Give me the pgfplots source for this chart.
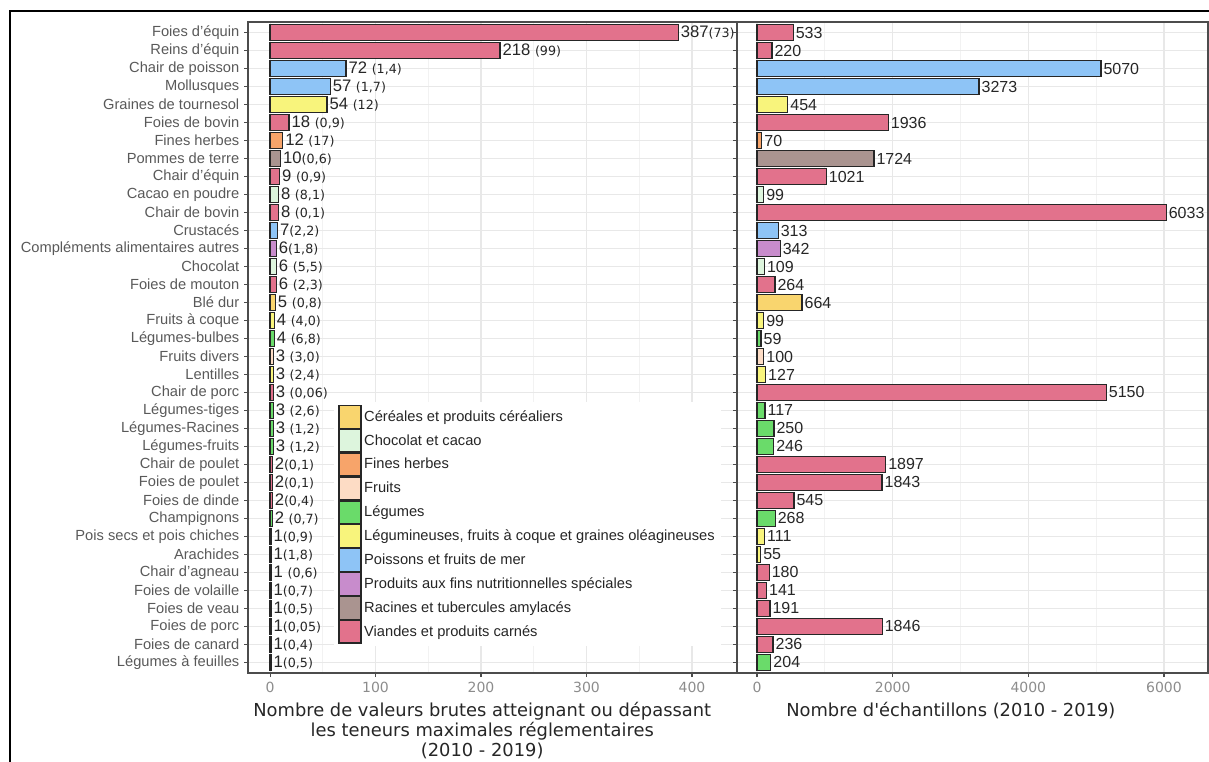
\documentclass[border=0pt]{standalone}
\usepackage{pgfplots}
\pgfplotsset{compat=1.18}
\usepackage{fontspec}
\setmainfont{Liberation Sans}
\newfontfamily\dejavu{DejaVu Sans}

% food group colours
\definecolor{cCer}{HTML}{F9D56E}
\definecolor{cCho}{HTML}{DDF5DD}
\definecolor{cHer}{HTML}{F7A46A}
\definecolor{cFru}{HTML}{FDDCC5}
\definecolor{cLeg}{HTML}{6ADB6A}
\definecolor{cLgm}{HTML}{F8F47C}
\definecolor{cPoi}{HTML}{8EC4F6}
\definecolor{cPro}{HTML}{C88CCC}
\definecolor{cRac}{HTML}{AA9490}
\definecolor{cVia}{HTML}{E2728C}

\NewDocumentCommand{\pc}{m}{{\dejavu\fontsize{9.5}{10}\selectfont(#1)}}

\pgfplotsset{
  panel/.style={
    scale only axis, height=488.25pt,
    xbar, bar width=0.9, bar shift=0pt,
    y dir=reverse, ymin=0.4, ymax=36.6, ytick={1,...,36},
    enlargelimits=false, clip=false,
    tick pos=left, tick align=outside,
    major tick length=3pt, minor tick length=0pt,
    ymajorgrids, xmajorgrids, xminorgrids,
    major grid style={draw=black!9, line width=0.8pt},
    minor grid style={draw=black!5, line width=0.6pt},
    axis line style={draw=black!70, line width=0.9pt},
    every tick/.style={draw=black!70, line width=0.8pt},
    xticklabel style={font=\dejavu\fontsize{10.5}{11}\selectfont, text=black!45},
    /pgf/number format/assume math mode=true,
    /pgf/number format/1000 sep={},
    xlabel style={font=\dejavu\fontsize{13.4}{15}\selectfont, align=center,
      text=black!85, anchor=north, inner sep=0pt, yshift=-21.5pt},
  },
  grp/.style={fill=#1, draw=black!85, line width=0.9pt},
}

\begin{document}
\begin{tikzpicture}
\useasboundingbox (0,0) rectangle (906.75pt,-571.5pt);
\draw[line width=1.6pt, black] (7.5pt,-590pt) -- (7.5pt,-8.5pt) -- (915pt,-8.5pt);

% left panel: values at or above the maximum levels
\begin{axis}[panel,
  at={(186pt,-16.5pt)}, anchor=north west, width=366.75pt,
  xmin=-20.9, xmax=442.7, xtick={0,100,200,300,400},
  minor xtick={50,150,250,350},
  yticklabels={Foies d'équin, Reins d'équin, Chair de poisson, Mollusques,
    Graines de tournesol, Foies de bovin, Fines herbes, Pommes de terre,
    Chair d'équin, Cacao en poudre, Chair de bovin, Crustacés,
    Compléments alimentaires autres, Chocolat, Foies de mouton, Blé dur,
    Fruits à coque, Légumes-bulbes, Fruits divers, Lentilles, Chair de porc,
    Légumes-tiges, Légumes-Racines, Légumes-fruits, Chair de poulet,
    Foies de poulet, Foies de dinde, Champignons, Pois secs et pois chiches,
    Arachides, Chair d'agneau, Foies de volaille, Foies de veau, Foies de porc,
    Foies de canard, Légumes à feuilles},
  yticklabel style={font=\fontsize{11}{12}\selectfont, text=black!65},
  point meta=explicit symbolic,
  nodes near coords,
  nodes near coords style={anchor=west, inner sep=1.5pt, text=black!85,
    font=\fontsize{12.5}{13}\selectfont},
  xlabel={Nombre de valeurs brutes atteignant ou dépassant\\les teneurs maximales réglementaires\\(2010 - 2019)},
  xlabel style={at={(axis description cs:0.479,0)}},
  legend cell align=left,
  legend image code/.code={\draw[#1] (0pt,-8.5pt) rectangle (16.5pt,8.5pt);},
  legend style={at={(axis description cs:0.176,0.4163)}, anchor=north west,
    draw=none, fill=white, row sep=0pt, text=black!85,
    font=\fontsize{11}{12}\selectfont},
]
\addplot[grp=cCer] coordinates {(5,16) [5 \pc{0,8}]};
\addplot[grp=cCho] coordinates {(8,10) [8 \pc{8,1}] (6,14) [6 \pc{5,5}]};
\addplot[grp=cHer] coordinates {(12,7) [12 \pc{17}]};
\addplot[grp=cFru] coordinates {(3,19) [3 \pc{3,0}]};
\addplot[grp=cLeg] coordinates {(4,18) [4 \pc{6,8}] (3,22) [3 \pc{2,6}]
  (3,23) [3 \pc{1,2}] (3,24) [3 \pc{1,2}] (2,28) [2 \pc{0,7}] (1,36) [1\pc{0,5}]};
\addplot[grp=cLgm] coordinates {(54,5) [54 \pc{12}] (4,17) [4 \pc{4,0}]
  (3,20) [3 \pc{2,4}] (1,29) [1\pc{0,9}] (1,30) [1\pc{1,8}]};
\addplot[grp=cPoi] coordinates {(72,3) [72 \pc{1,4}] (57,4) [57 \pc{1,7}]
  (7,12) [7\pc{2,2}]};
\addplot[grp=cPro] coordinates {(6,13) [6\pc{1,8}]};
\addplot[grp=cRac] coordinates {(10,8) [10\pc{0,6}]};
\addplot[grp=cVia] coordinates {(387,1) [387\pc{73}] (218,2) [218 \pc{99}]
  (18,6) [18 \pc{0,9}] (9,9) [9 \pc{0,9}] (8,11) [8 \pc{0,1}] (6,15) [6 \pc{2,3}]
  (3,21) [3 \pc{0,06}] (2,25) [2\pc{0,1}] (2,26) [2\pc{0,1}] (2,27) [2\pc{0,4}]
  (1,31) [1 \pc{0,6}] (1,32) [1\pc{0,7}] (1,33) [1\pc{0,5}] (1,34) [1\pc{0,05}]
  (1,35) [1\pc{0,4}]};
\legend{Céréales et produits céréaliers, Chocolat et cacao, Fines herbes, Fruits,
  Légumes, {Légumineuses, fruits à coque et graines oléagineuses},
  Poissons et fruits de mer, Produits aux fins nutritionnelles spéciales,
  Racines et tubercules amylacés, Viandes et produits carnés}
\end{axis}

% right panel: number of samples
\begin{axis}[panel,
  at={(552.75pt,-16.5pt)}, anchor=north west, width=353.25pt,
  xmin=-295, xmax=6649, xtick={0,2000,4000,6000},
  minor xtick={1000,3000,5000},
  yticklabels={},
  point meta=x,
  nodes near coords,
  nodes near coords style={anchor=west, inner sep=1.5pt, text=black!85,
    font=\fontsize{12}{13}\selectfont,
    /pgf/number format/.cd, fixed, precision=0, 1000 sep={}, assume math mode=true},
  xlabel={Nombre d'échantillons (2010 - 2019)},
  xlabel style={at={(axis description cs:0.454,0)}},
]
\addplot[grp=cCer] coordinates {(664,16)};
\addplot[grp=cCho] coordinates {(99,10) (109,14)};
\addplot[grp=cHer] coordinates {(70,7)};
\addplot[grp=cFru] coordinates {(100,19)};
\addplot[grp=cLeg] coordinates {(59,18) (117,22) (250,23) (246,24) (268,28) (204,36)};
\addplot[grp=cLgm] coordinates {(454,5) (99,17) (127,20) (111,29) (55,30)};
\addplot[grp=cPoi] coordinates {(5070,3) (3273,4) (313,12)};
\addplot[grp=cPro] coordinates {(342,13)};
\addplot[grp=cRac] coordinates {(1724,8)};
\addplot[grp=cVia] coordinates {(533,1) (220,2) (1936,6) (1021,9) (6033,11)
  (264,15) (5150,21) (1897,25) (1843,26) (545,27) (180,31) (141,32) (191,33)
  (1846,34) (236,35)};
\end{axis}
\end{tikzpicture}
\end{document}
